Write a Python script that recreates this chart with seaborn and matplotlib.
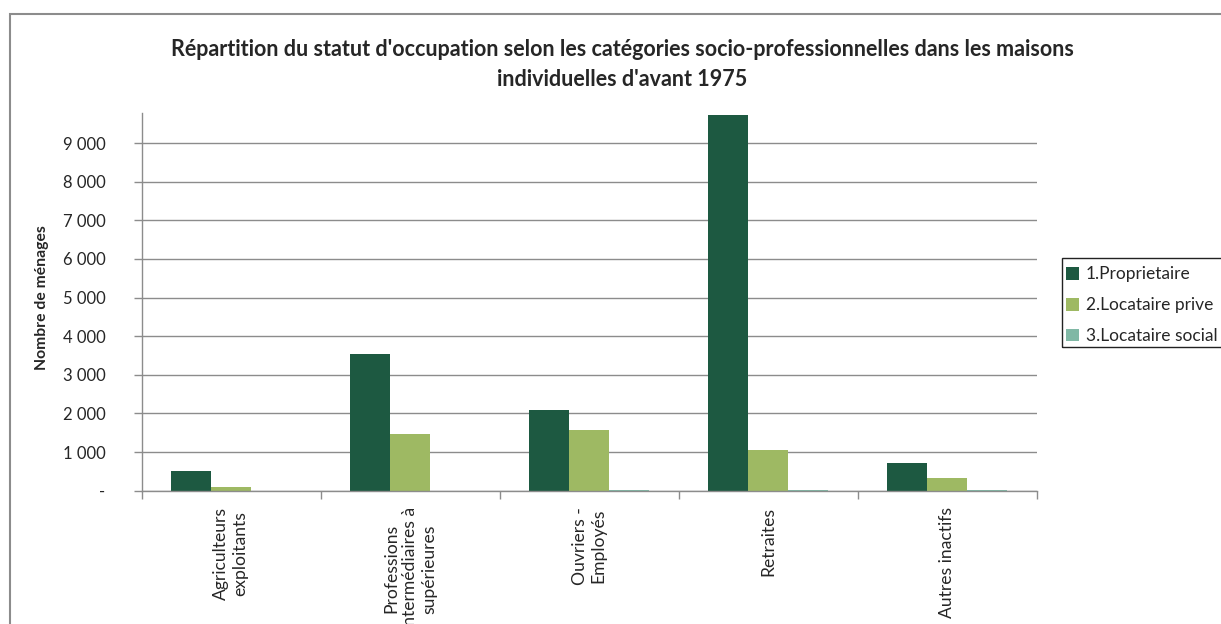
import matplotlib
matplotlib.use("Agg")
import matplotlib.pyplot as plt
import matplotlib.ticker as mticker
from matplotlib.patches import Rectangle, Patch
import pandas as pd
import seaborn as sns

# Socio-professional categories (x axis)
categories = [
    "Agriculteurs\nexploitants",
    "Professions\nintermédiaires à\nsupérieures",
    "Ouvriers -\nEmployés",
    "Retraites",
    "Autres inactifs",
]
statuts = ["1.Proprietaire", "2.Locataire prive", "3.Locataire social"]

# Number of households per occupancy status
proprietaire = [500, 3550, 2095, 9730, 725]
locataire_prive = [100, 1475, 1580, 1060, 335]
locataire_social = [0, 0, 30, 30, 30]

colors = ["#1D5941", "#9EB963", "#80B8A5"]

rows = []
for serie, vals in zip(statuts, [proprietaire, locataire_prive, locataire_social]):
    for cat, v in zip(categories, vals):
        rows.append({"categorie": cat, "statut": serie, "menages": v})
df = pd.DataFrame(rows)

sns.set_theme(style="white")
plt.rcParams["font.family"] = ["Lato", "DejaVu Sans"]

W, H = 1221, 624
fig = plt.figure(figsize=(W / 100, H / 100), dpi=100)
ax = fig.add_axes([141.5 / W, 1 - 490.7 / H, (1037 - 141.5) / W, (490.7 - 113) / H])

sns.barplot(
    data=df, x="categorie", y="menages", hue="statut",
    palette=colors, width=0.67, gap=0, saturation=1,
    edgecolor="none", linewidth=0, ax=ax, legend=False,
)

ax.set_xlim(-0.5, len(categories) - 0.5)
ax.set_ylim(0, 9780)
ax.yaxis.set_major_locator(mticker.MultipleLocator(1000))
ax.yaxis.set_major_formatter(
    mticker.FuncFormatter(lambda v, p: "-" if v == 0 else f"{int(v):,}".replace(",", " "))
)
ax.grid(axis="y", color="#8c8c8c", linewidth=1)
ax.set_axisbelow(True)

for s in ["top", "right"]:
    ax.spines[s].set_visible(False)
for s in ["left", "bottom"]:
    ax.spines[s].set_color("#8c8c8c")
    ax.spines[s].set_linewidth(1)

ax.tick_params(axis="y", direction="out", length=6, width=1, color="#8c8c8c",
               labelsize=12, pad=20, left=True)
# category separators as tick marks, labels at centres
ax.set_xticks([i - 0.5 for i in range(len(categories) + 1)], minor=True)
ax.tick_params(axis="x", which="minor", direction="out", length=6, width=1,
               color="#8c8c8c", bottom=True)
ax.tick_params(axis="x", which="major", length=0, pad=12)
ax.set_xticks(range(len(categories)))
ax.set_xticklabels(categories, rotation=90, ha="center", va="top",
                   multialignment="center", fontsize=12.6, linespacing=1.25)

ax.set_xlabel("")
ax.set_ylabel("")
fig.text(42 / W, 1 - 298 / H, "Nombre de ménages", rotation=90,
         ha="center", va="center", fontsize=11.3, fontweight="bold")

fig.text(0.5 * (172 + 1073) / W, 1 - 50 / H,
         "Répartition du statut d'occupation selon les catégories socio-professionnelles dans les maisons",
         ha="center", va="center", fontsize=15.5, fontweight="bold")
fig.text(0.5 * (172 + 1073) / W, 1 - 80 / H, "individuelles d'avant 1975",
         ha="center", va="center", fontsize=15.5, fontweight="bold")

# legend entries without frame; frame drawn as a rectangle running to the edge
handles = [Patch(facecolor=c, edgecolor="none") for c in colors]
leg = fig.legend(handles, statuts, loc="upper left",
                 bbox_to_anchor=(1063 / W, 1 - 263 / H), fontsize=12.5,
                 frameon=False,
                 handlelength=0.75, handleheight=0.75, handletextpad=0.35,
                 labelspacing=0.85, borderpad=0.2, borderaxespad=0)
fig.patches.append(Rectangle((1061.5 / W, 1 - 347 / H), 0.2, (347 - 257.5) / H,
                             transform=fig.transFigure, fill=False,
                             edgecolor="#222222", linewidth=1))

# chart area frame
fig.patches.append(Rectangle((10 / W, -0.1), 1.2, 1 - 14 / H + 0.1,
                             transform=fig.transFigure, fill=False,
                             edgecolor="#8c8c8c", linewidth=1.5))

fig.savefig("out.png", dpi=100)
